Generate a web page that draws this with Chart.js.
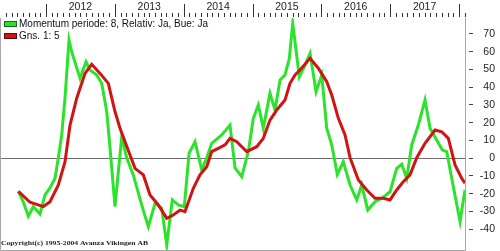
<!DOCTYPE html>
<html>
<head>
<meta charset="utf-8">
<script src="https://cdn.jsdelivr.net/npm/chart.js@4.4.0/dist/chart.umd.min.js"></script>
<style>
html,body{margin:0;padding:0;background:#fff;}
canvas{display:block;}
</style>
</head>
<body>
<canvas id="c" width="500" height="251"></canvas>
<script>
// Dates as decimal years
const greenX = [2011.598,2011.670,2011.743,2011.815,2011.913,2011.985,2012.058,2012.131,2012.179,2012.228,2012.276,2012.334,2012.373,2012.494,2012.581,2012.639,2012.737,2012.809,2012.882,2012.930,2013.002,2013.100,2013.172,2013.268,2013.390,2013.486,2013.584,2013.681,2013.754,2013.835,2013.922,2014.009,2014.078,2014.165,2014.262,2014.335,2014.407,2014.553,2014.673,2014.746,2014.843,2014.939,2015.012,2015.084,2015.157,2015.254,2015.327,2015.400,2015.472,2015.535,2015.584,2015.632,2015.680,2015.763,2015.836,2015.923,2016.006,2016.078,2016.151,2016.232,2016.319,2016.417,2016.514,2016.587,2016.674,2016.780,2016.877,2016.998,2017.095,2017.167,2017.240,2017.313,2017.409,2017.506,2017.579,2017.676,2017.758,2017.822,2017.894,2018.015,2018.087];
const greenY = [-19,-25,-33,-27.6,-31.7,-21,-17,-11.6,0,12.8,33.5,66.3,59.7,44.7,54,49.4,46.6,41.9,26,5.5,-27.6,11.8,0,-9.7,-26.6,-38.9,-25.7,-28.5,-49.2,-23.8,-26.6,-27.6,2.5,9,-6.9,0,8.1,12.8,18.4,-5.8,-10.7,3.4,22.2,29.7,16.6,36.3,26.9,43.8,46.6,56,75.7,60.7,45.6,52.2,58.8,37.2,46.6,16.6,7.2,-9.4,-2.3,-15.4,-23.8,-15.4,-29.5,-24.8,-22.9,-19.2,-6,-3.7,-11.6,7.2,18.4,32.5,16.6,10,4.3,3.4,-11.6,-36,-18];
const redX = [2011.598,2011.768,2011.961,2012.058,2012.179,2012.276,2012.349,2012.446,2012.567,2012.664,2012.785,2012.905,2013.002,2013.075,2013.148,2013.293,2013.414,2013.511,2013.632,2013.754,2013.849,2013.947,2014.019,2014.140,2014.237,2014.335,2014.407,2014.503,2014.601,2014.673,2014.771,2014.916,2015.061,2015.157,2015.254,2015.352,2015.472,2015.545,2015.618,2015.690,2015.836,2015.956,2016.078,2016.151,2016.247,2016.344,2016.417,2016.538,2016.660,2016.780,2016.901,2016.998,2017.095,2017.191,2017.288,2017.386,2017.506,2017.652,2017.749,2017.845,2017.942,2018.039,2018.087];
const redY = [-19,-25.1,-27.6,-24.8,-15.4,-2.3,18.4,33.5,47.5,52.6,47.5,41.9,26,16.6,9,-6,-9.7,-21,-26.6,-34.2,-32.3,-29.5,-30.4,-17.2,-9.7,-5.1,3.4,5.3,7.2,10.9,9,3.4,6.2,10.9,21.2,26.9,32.5,41.9,46.6,49.4,56,50.4,42.8,35.3,22.2,12.8,0,-12.6,-18.2,-22.9,-22.9,-23.8,-18.2,-13.5,-9.7,0,8.1,15.6,14.6,10.9,-4.1,-11.6,-14.4];
const yearLabels = ['2012','2013','2014','2015','2016','2017'];
const yTickValues = [70,60,50,40,30,20,10,0,-10,-20,-30,-40];
const legendLabels = ['Momentum periode: 8, Relativ: Ja, Bue: Ja','Gns. 1: 5'];
const copyrightText = 'Copyright(c) 1995-2004 Avanza Vikingen AB';

const GREEN = '#2be32b';
const RED = '#d01313';

const decor = {
  id: 'decor',
  beforeDatasetsDraw(chart) {
    const ctx = chart.ctx, a = chart.chartArea, y = chart.scales.y;
    ctx.save();
    ctx.strokeStyle = '#6e6e6e';
    ctx.lineWidth = 1;
    const py = Math.round(y.getPixelForValue(0)) + 0.5;
    ctx.beginPath(); ctx.moveTo(a.left, py); ctx.lineTo(a.right, py); ctx.stroke();
    ctx.restore();
  },
  afterDraw(chart) {
    const ctx = chart.ctx, a = chart.chartArea, x = chart.scales.x, y = chart.scales.y;
    ctx.save();
    // frame
    ctx.strokeStyle = '#a8a8a8';
    ctx.lineWidth = 1;
    ctx.beginPath();
    ctx.moveTo(a.left - 0.5, a.top); ctx.lineTo(a.left - 0.5, a.bottom + 0.5);
    ctx.lineTo(a.right + 0.5, a.bottom + 0.5); ctx.lineTo(a.right + 0.5, a.top);
    ctx.stroke();
    // top axis ticks
    ctx.strokeStyle = '#333';
    const m0 = Math.ceil(x.min * 12), m1 = Math.floor(x.max * 12);
    ctx.beginPath();
    for (let m = m0; m <= m1; m++) {
      const px = Math.round(x.getPixelForValue(m / 12)) + 0.5;
      const top = (m % 12 === 0) ? 4 : 13;
      ctx.moveTo(px, top); ctx.lineTo(px, 17);
    }
    ctx.stroke();
    ctx.fillStyle = '#222';
    ctx.font = '10.5px "Liberation Sans", Arial, sans-serif';
    ctx.textAlign = 'center'; ctx.textBaseline = 'middle';
    yearLabels.forEach(l => {
      ctx.fillText(l, x.getPixelForValue(parseInt(l) + 0.5), 7);
    });
    // y ticks
    ctx.strokeStyle = '#444';
    ctx.textAlign = 'right';
    ctx.beginPath();
    yTickValues.forEach(v => {
      const py = Math.round(y.getPixelForValue(v)) + 0.5;
      ctx.moveTo(469, py); ctx.lineTo(473, py);
    });
    ctx.stroke();
    yTickValues.forEach(v => {
      ctx.fillText(String(v), 495, y.getPixelForValue(v) + 0.5);
    });
    // legend
    const colors = [GREEN, RED];
    const borders = ['#1a6a1a', '#5a0a0a'];
    ctx.textAlign = 'left';
    ctx.font = '10px "Liberation Sans", Arial, sans-serif';
    legendLabels.forEach((l, i) => {
      const by = 21 + i * 12;
      ctx.fillStyle = colors[i];
      ctx.fillRect(4, by, 13, 6);
      ctx.strokeStyle = borders[i];
      ctx.strokeRect(4.5, by + 0.5, 12, 5);
      ctx.fillStyle = '#111';
      ctx.fillText(l, 19, by + 3.5);
    });
    // copyright
    ctx.font = 'bold 7px "Liberation Serif", serif';
    const w = ctx.measureText(copyrightText).width;
    ctx.save();
    ctx.translate(1, 243);
    ctx.scale(147 / w, 1);
    ctx.fillStyle = '#222';
    ctx.textBaseline = 'middle';
    ctx.fillText(copyrightText, 0, 0);
    ctx.restore();
    ctx.restore();
  }
};

new Chart(document.getElementById('c'), {
  type: 'line',
  data: {
    datasets: [
      { label: legendLabels[0], data: greenX.map((v, i) => ({ x: v, y: greenY[i] })), borderColor: GREEN, borderWidth: 3, pointRadius: 0, tension: 0, order: 2 },
      { label: legendLabels[1], data: redX.map((v, i) => ({ x: v, y: redY[i] })), borderColor: RED, borderWidth: 3, pointRadius: 0, tension: 0, order: 1 }
    ]
  },
  options: {
    responsive: false,
    animation: false,
    devicePixelRatio: 1,
    layout: { padding: { left: 1, right: 35, top: 18, bottom: 1 } },
    plugins: { legend: { display: false }, tooltip: { enabled: false } },
    scales: {
      x: { type: 'linear', min: 2011.346, max: 2018.087, display: false },
      y: { type: 'linear', min: -52, max: 78.7, display: false }
    }
  },
  plugins: [decor]
});
</script>
</body>
</html>
